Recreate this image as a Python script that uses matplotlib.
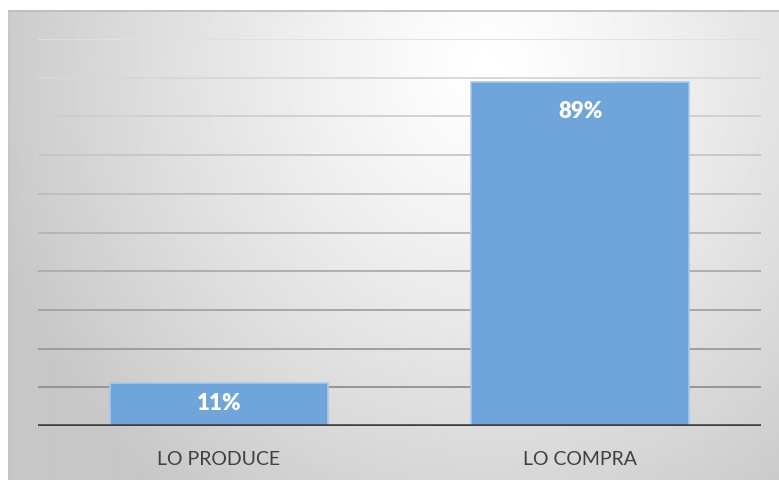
import numpy as np
import matplotlib
matplotlib.use('Agg')
import matplotlib.pyplot as plt

categories = ['LO PRODUCE', 'LO COMPRA']
values = [11, 89]
labels = ['11%', '89%']
grid_levels = [10, 20, 30, 40, 50, 60, 70, 80, 90, 100]

W, H = 779, 481
fig = plt.figure(figsize=(W / 100, H / 100), dpi=100)
fig.patch.set_facecolor('white')

# radial gray background of the chart panel
bg = fig.add_axes([8 / W, 0, 1 - 8 / W, (H - 11) / H])
bg.set_axis_off()
ny, nx = 235, 386
yy, xx = np.mgrid[0:ny, 0:nx]
cx, cy = 0.62 * nx, 0.12 * ny
r = np.sqrt(((xx - cx) / (0.72 * nx)) ** 2 + ((yy - cy) / (1.25 * ny)) ** 2)
shade = np.clip(1.0 - 0.24 * r ** 1.2, 0.78, 1.0)
bg.imshow(shade, cmap='gray', vmin=0, vmax=1, aspect='auto',
          extent=[0, 1, 0, 1], origin='upper', interpolation='bilinear')
bg.set_xlim(0, 1)
bg.set_ylim(0, 1)
bg.plot([0, 1], [0.997, 0.997], color='#bdbdbd', lw=1.2, transform=bg.transAxes)
bg.plot([0.001, 0.001], [0, 1], color='#c4c4c4', lw=1.0, transform=bg.transAxes)

ax = fig.add_axes([38 / W, (H - 427) / H, (761 - 38) / W, (427 - 40) / H])
ax.patch.set_alpha(0)
ax.set_xlim(-0.5, 1.5)
ax.set_ylim(0, 100)

# gridlines darken toward the bottom
for lv in grid_levels:
    t = lv / 100
    g = 0.53 + 0.35 * t
    ax.axhline(lv, color=(g, g, g), lw=1.3, zorder=1)
ax.axhline(0, color='#404040', lw=2.6, zorder=4)

x = np.arange(len(categories))
bars = ax.bar(x, values, width=0.603, color='#6fa5d8', edgecolor='#a8c8ea',
              linewidth=1.2, zorder=3)

for b, v, lab in zip(bars, values, labels):
    bar_px = v / 100 * (427 - 40)
    off = -min(18, 0.2 * bar_px) * 72 / 100
    ax.annotate(lab, (b.get_x() + b.get_width() / 2, v), xytext=(0, off),
                textcoords='offset points', ha='center', va='top',
                color='white', fontsize=16, fontweight='heavy', family='Lato',
                zorder=5)

ax.set_xticks(x)
ax.set_xticklabels(categories, fontsize=14, color='#404040', family='Lato')
ax.tick_params(axis='x', length=0, pad=17)
ax.set_yticks([])
for s in ax.spines.values():
    s.set_visible(False)

fig.savefig('out.png', dpi=100)
